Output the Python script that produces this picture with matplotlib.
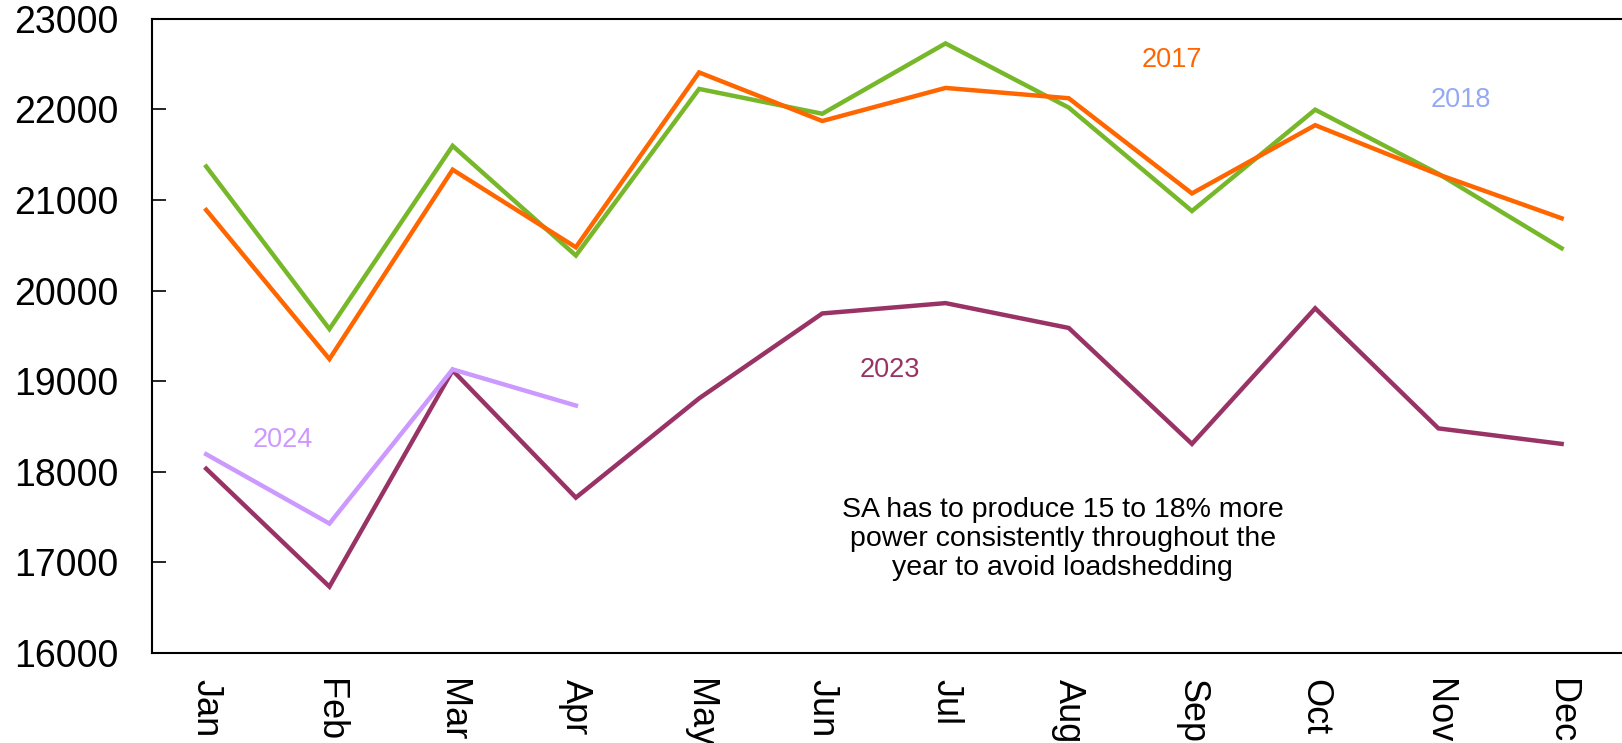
import matplotlib
matplotlib.use("Agg")
import matplotlib.pyplot as plt

months = ["Jan", "Feb", "Mar", "Apr", "May", "Jun", "Jul", "Aug", "Sep", "Oct", "Nov", "Dec"]
s2017 = [20888, 19244, 21333, 20477, 22406, 21870, 22235, 22121, 21071, 21824, 21280, 20797]
s2018 = [21368, 19575, 21596, 20386, 22224, 21950, 22726, 22018, 20877, 21995, 21288, 20466]
s2023 = [18034, 16733, 19119, 17715, 18810, 19747, 19861, 19587, 18308, 19804, 18479, 18308]
s2024 = [18194, 17429, 19130, 18731]
yticks = [16000, 17000, 18000, 19000, 20000, 21000, 22000, 23000]

plt.rcParams['font.family'] = ['Liberation Sans', 'DejaVu Sans']

fig = plt.figure(figsize=(16.22, 7.43), dpi=100)
ax = fig.add_axes([0.0937, 0.121, 0.9063, 0.854])

x = list(range(len(months)))
lw = 3.2
ax.plot(x, s2018, color="#77B82A", lw=lw, solid_joinstyle="miter")
ax.plot(x, s2017, color="#FF6600", lw=lw, solid_joinstyle="miter")
ax.plot(x, s2023, color="#993366", lw=lw, solid_joinstyle="miter")
ax.plot(x[:len(s2024)], s2024, color="#CC99FF", lw=lw, solid_joinstyle="miter")

ax.set_xlim(-0.44, 11.49)
ax.set_ylim(16000, 23000)
ax.set_yticks(yticks)
ax.set_yticklabels([str(v) for v in yticks])
ax.set_xticks(x)
ax.set_xticklabels(months, rotation=270, va="top", ha="center")

ax.tick_params(axis="y", direction="in", length=10, width=1.2, labelsize=27, pad=24)
ax.tick_params(axis="x", length=0, labelsize=26, pad=19)

for side in ["left", "bottom", "top"]:
    ax.spines[side].set_linewidth(1.5)
    ax.spines[side].set_color("black")
ax.spines["right"].set_visible(False)

ax.text(7.84, 22543, "2017", color="#FF6600", fontsize=19.5, ha="center", va="center")
ax.text(10.18, 22098, "2018", color="#94A9F2", fontsize=19.5, ha="center", va="center")
ax.text(5.55, 19119, "2023", color="#993366", fontsize=19.5, ha="center", va="center")
ax.text(0.62, 18354, "2024", color="#CC99FF", fontsize=19.5, ha="center", va="center")
ax.text(6.95, 17258, "SA has to produce 15 to 18% more\npower consistently throughout the\nyear to avoid loadshedding",
        color="black", fontsize=20.5, ha="center", va="center", linespacing=1.15)

fig.savefig("out.png", dpi=100)
